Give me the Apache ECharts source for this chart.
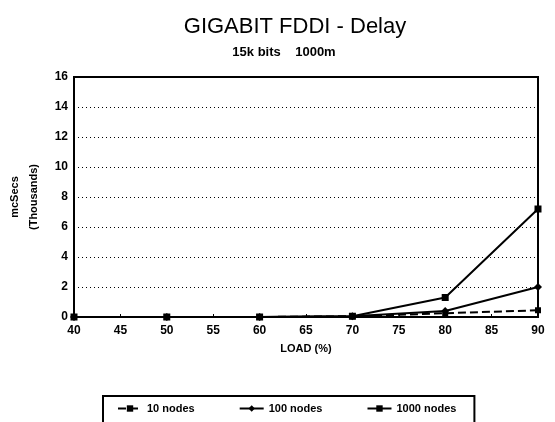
<!DOCTYPE html>
<html>
<head>
<meta charset="utf-8">
<script src="https://cdn.jsdelivr.net/npm/echarts@6/dist/echarts.min.js"></script>
<style>
  html, body { margin: 0; padding: 0; background: #fff; }
  #chart { width: 555px; height: 422px; }
</style>
</head>
<body>
<div id="chart"></div>
<script>
// load in percent
const loads = [40, 50, 60, 70, 80, 90]
// delay in thousands of mcSecs
const nodes10 = [0, 0, 0, 0.05, 0.25, 0.45]
const nodes100 = [0, 0, 0, 0.05, 0.4, 2.0]
const nodes1000 = [0, 0, 0, 0.05, 1.3, 7.2]
const seriesNames = ['10 nodes', '100 nodes', '1000 nodes']

const chart = echarts.init(document.getElementById('chart'))
const font = 'Liberation Sans, Arial, sans-serif'

const pairs = (ys) => loads.map((x, i) => [x, ys[i]])

const option = {
  backgroundColor: '#fff',
  animation: false,
  title: [
    {
      text: 'GIGABIT FDDI - Delay',
      left: 290,
      top: 11,
      textAlign: 'center',
      textStyle: { fontFamily: font, fontSize: 22, fontWeight: 'normal', color: '#000' }
    },
    {
      text: '15k bits    1000m',
      left: 279,
      top: 41,
      textAlign: 'center',
      textStyle: { fontFamily: font, fontSize: 13, fontWeight: 'bold', color: '#000' }
    }
  ],
  legend: {
    left: 103,
    top: 396,
    padding: [7, 18, 20, 14],
    itemGap: 44,
    itemWidth: 24,
    itemHeight: 8,
    borderColor: '#000',
    borderWidth: 2,
    borderRadius: 0,
    data: [
      { name: seriesNames[0], lineStyle: { type: 'dashed' } },
      { name: seriesNames[1] },
      { name: seriesNames[2] }
    ],
    textStyle: { fontFamily: font, fontSize: 11, fontWeight: 'bold', color: '#000' }
  },
  grid: {
    left: 74,
    right: 17,
    top: 77,
    bottom: 105,
    containLabel: false,
    outerBoundsMode: 'none',
    show: true,
    borderColor: '#000',
    borderWidth: 2
  },
  xAxis: {
    type: 'value',
    min: 40,
    max: 90,
    interval: 5,
    name: 'LOAD (%)',
    nameLocation: 'middle',
    nameGap: 26,
    nameTextStyle: { fontFamily: font, fontSize: 11, fontWeight: 'bold', color: '#000' },
    axisLine: { lineStyle: { color: '#000', width: 2 } },
    axisTick: { inside: true, length: 3, lineStyle: { color: '#000' } },
    axisLabel: { fontFamily: font, fontSize: 12, fontWeight: 'bold', color: '#000', margin: 8 },
    splitLine: { show: false }
  },
  yAxis: {
    type: 'value',
    min: 0,
    max: 16,
    interval: 2,
    name: 'mcSecs\n(Thousands)',
    nameLocation: 'middle',
    nameRotate: 90,
    nameGap: 24,
    nameTextStyle: { fontFamily: font, fontSize: 11, fontWeight: 'bold', color: '#000', lineHeight: 19 },
    axisLine: { lineStyle: { color: '#000', width: 2 } },
    axisTick: { show: false },
    axisLabel: { fontFamily: font, fontSize: 12, fontWeight: 'bold', color: '#000', margin: 6 },
    splitLine: { lineStyle: { color: '#000', width: 1, type: [1, 3] } }
  },
  series: [
    {
      name: seriesNames[0],
      type: 'line',
      data: pairs(nodes10),
      symbol: 'rect',
      symbolSize: 6,
      lineStyle: { color: '#000', width: 2, type: 'dashed' },
      itemStyle: { color: '#000' }
    },
    {
      name: seriesNames[1],
      type: 'line',
      data: pairs(nodes100),
      symbol: 'diamond',
      symbolSize: 8,
      lineStyle: { color: '#000', width: 2 },
      itemStyle: { color: '#000' }
    },
    {
      name: seriesNames[2],
      type: 'line',
      data: pairs(nodes1000),
      symbol: 'rect',
      symbolSize: 7,
      lineStyle: { color: '#000', width: 2 },
      itemStyle: { color: '#000' }
    }
  ]
}

chart.setOption(option)
</script>
</body>
</html>
